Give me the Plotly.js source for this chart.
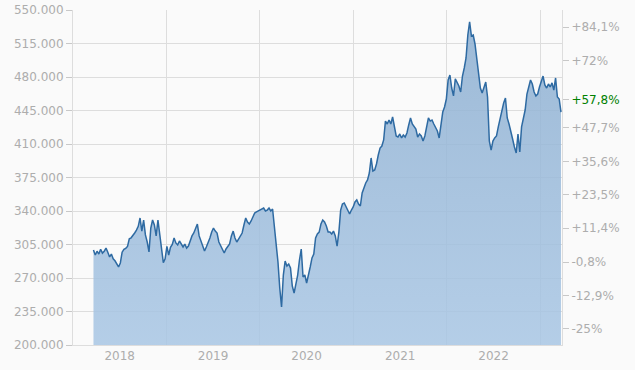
<!DOCTYPE html>
<html>
<head>
<meta charset="utf-8">
<script src="https://cdn.plot.ly/plotly-3.0.1.min.js"></script>
<style>
  html, body { margin: 0; padding: 0; background: #fafafa; }
  #chart { width: 635px; height: 370px; }
</style>
</head>
<body>
<div id="chart"></div>
<script>
// Weekly closing values (in thousands), starting 2018-03-22
const startDate = '2018-03-22';
const stepDays = 7;
const values = [
  299.3, 294, 298, 295, 300, 296, 298, 301.3, 297, 292,
  295, 290, 288, 285, 281.5, 285.7, 297, 300, 301, 303,
  311, 312, 314, 317, 320, 324, 332.7, 319, 330.6, 315,
  307.6, 297.2, 322, 330.6, 325.4, 314, 330.6, 314, 299, 286,
  290, 303, 294, 302, 305, 311.8, 306.6, 304.5, 308.7, 305.5,
  302.4, 305.5,
  301.3, 303.4, 309.7, 314, 317, 321, 326.4, 314, 308.7, 304.5,
  298.3, 302.4, 306.6, 311.8, 318, 322.2, 319, 317, 307.6, 303.4,
  299.3, 296.1, 300.3, 302.4, 305.5, 314, 319, 311.8, 307.6, 310.7,
  314, 317, 325.4, 332.7, 328.5, 326.4, 329.6, 333.7, 337.9, 339,
  340, 341, 342.1, 343.1, 340, 341, 343.1, 340, 342.1, 324.4,
  306.6, 286.7, 259.6, 239.7, 273.1, 287.7, 282.5, 284.6, 280.4, 261.6,
  254.3, 264.8, 273.1, 288.8, 300.3, 271, 273.1, 264.8, 272, 281.5,
  291, 295, 311.8, 316, 318, 326.4, 330.6, 328.5, 324.4, 318,
  318, 316, 319, 314, 303.4, 318, 341, 347.3, 348.4, 344.2,
  341, 336.9, 341, 344.2, 349.4, 351.5, 347.3, 345.2, 358.8, 365,
  369.3, 372.4, 379.7, 395.4, 381.8, 382.8, 389.1, 398.5, 405.8, 407.9,
  414.2, 434, 430.9, 435.1, 430.9, 438.2, 428.8, 418.4, 417.3, 420.5,
  416.3, 419.4, 417.3, 421.5, 429.9, 437.2, 430.9, 427.8, 425.7, 417.3,
  420.5, 418.4, 413.1, 418.4, 428.8, 437.2, 434, 435.1, 430.9, 427.8,
  423.6, 416.3, 430.9, 443.4, 448.7, 457, 476.9, 482.1, 468.5, 460.2,
  478, 474.8, 470.6, 464.3, 481, 489.4, 499.9, 523.9, 537.5, 522.8,
  523.9, 514.5, 496.7, 481, 468.5, 463.3, 468.5, 474.8, 459.1, 413.1,
  403.7, 413.1, 416.3, 418.4, 427.8, 437.2, 443.4, 452.8, 458.1, 437.2,
  430.9, 421.5, 415.2, 406.9, 400.6, 420.5, 401.6, 427.8, 438.2, 445.5,
  462.2, 469.6, 476.9, 472.7, 464.3, 460.2, 462.2, 469.6, 474.8, 481,
  471.7, 468.5, 472.7, 469.6, 473.8, 466.4, 479, 459.1, 457, 443.4
];

// Left axis ticks (thousands) and labels
const yTickVals = [200, 235, 270, 305, 340, 375, 410, 445, 480, 515, 550];
const yTickText = ['200.000', '235.000', '270.000', '305.000', '340.000', '375.000',
                   '410.000', '445.000', '480.000', '515.000', '550.000'];

// Right axis: performance relative to base value
const basePrice = 289;           // thousands
const pctTicks = [84.1, 72, 57.8, 47.7, 35.6, 23.5, 11.4, -0.8, -12.9, -25];
const pctLabels = ['+84,1%', '+72%', '+57,8%', '+47,7%', '+35,6%', '+23,5%', '+11,4%', '-0,8%', '-12,9%', '-25%'];
const currentPct = 57.8;

const xRange = ['2018-01-01', '2023-03-27'];

// build dates
const dates = [];
const d0 = new Date(startDate + 'T00:00:00Z');
for (let i = 0; i < values.length; i++) {
  const d = new Date(d0.getTime() + i * stepDays * 86400000);
  dates.push(d.toISOString().slice(0, 10));
}

const pctVals = pctTicks.map(p => basePrice * (1 + p / 100));
const pctText = pctTicks.map((p, i) => p === currentPct
  ? '<span style="color:#008000">' + pctLabels[i] + '</span>' : pctLabels[i]);

const font = { family: 'DejaVu Sans, Verdana, sans-serif', size: 12, color: '#adadad' };

const trace = {
  x: dates,
  y: values,
  type: 'scatter',
  mode: 'lines',
  line: { color: '#2e6aa2', width: 1.5 },
  fill: 'tozeroy',
  fillgradient: {
    type: 'vertical',
    start: 200, stop: 550,
    colorscale: [[0, 'rgba(168,198,228,0.85)'], [1, 'rgba(140,174,208,0.85)']]
  },
  hoverinfo: 'skip'
};

const dummy = {
  x: [dates[0]], y: [values[0]], yaxis: 'y2', type: 'scatter', mode: 'markers',
  marker: { opacity: 0 }, hoverinfo: 'skip', showlegend: false
};

const layout = {
  width: 635, height: 370,
  margin: { l: 73, r: 73, t: 10, b: 25, pad: 0 },
  paper_bgcolor: '#fafafa',
  plot_bgcolor: '#fafafa',
  showlegend: false,
  font: font,
  xaxis: {
    type: 'date',
    range: xRange,
    tick0: '2018-01-01',
    dtick: 'M12',
    tickformat: '%Y',
    ticklabelmode: 'period',
    showgrid: true,
    gridcolor: '#dddddd',
    gridwidth: 1,
    ticks: '',
    showline: true,
    linecolor: '#dddddd',
    zeroline: false,
    tickfont: font,
    fixedrange: true
  },
  yaxis: {
    range: [200, 550],
    tickvals: yTickVals,
    ticktext: yTickText,
    showgrid: true,
    gridcolor: '#dddddd',
    ticks: 'outside',
    ticklen: 6,
    tickcolor: '#c8c8c8',
    showline: true,
    linecolor: '#dddddd',
    zeroline: false,
    tickfont: font,
    fixedrange: true
  },
  yaxis2: {
    overlaying: 'y',
    side: 'right',
    range: [200, 550],
    tickvals: pctVals,
    ticktext: pctText,
    showgrid: false,
    ticks: 'outside',
    ticklen: 6,
    tickcolor: '#c8c8c8',
    showline: true,
    linecolor: '#dddddd',
    zeroline: false,
    tickfont: font,
    fixedrange: true
  }
};

Plotly.newPlot('chart', [trace, dummy], layout, { staticPlot: true, displayModeBar: false });
</script>
</body>
</html>
